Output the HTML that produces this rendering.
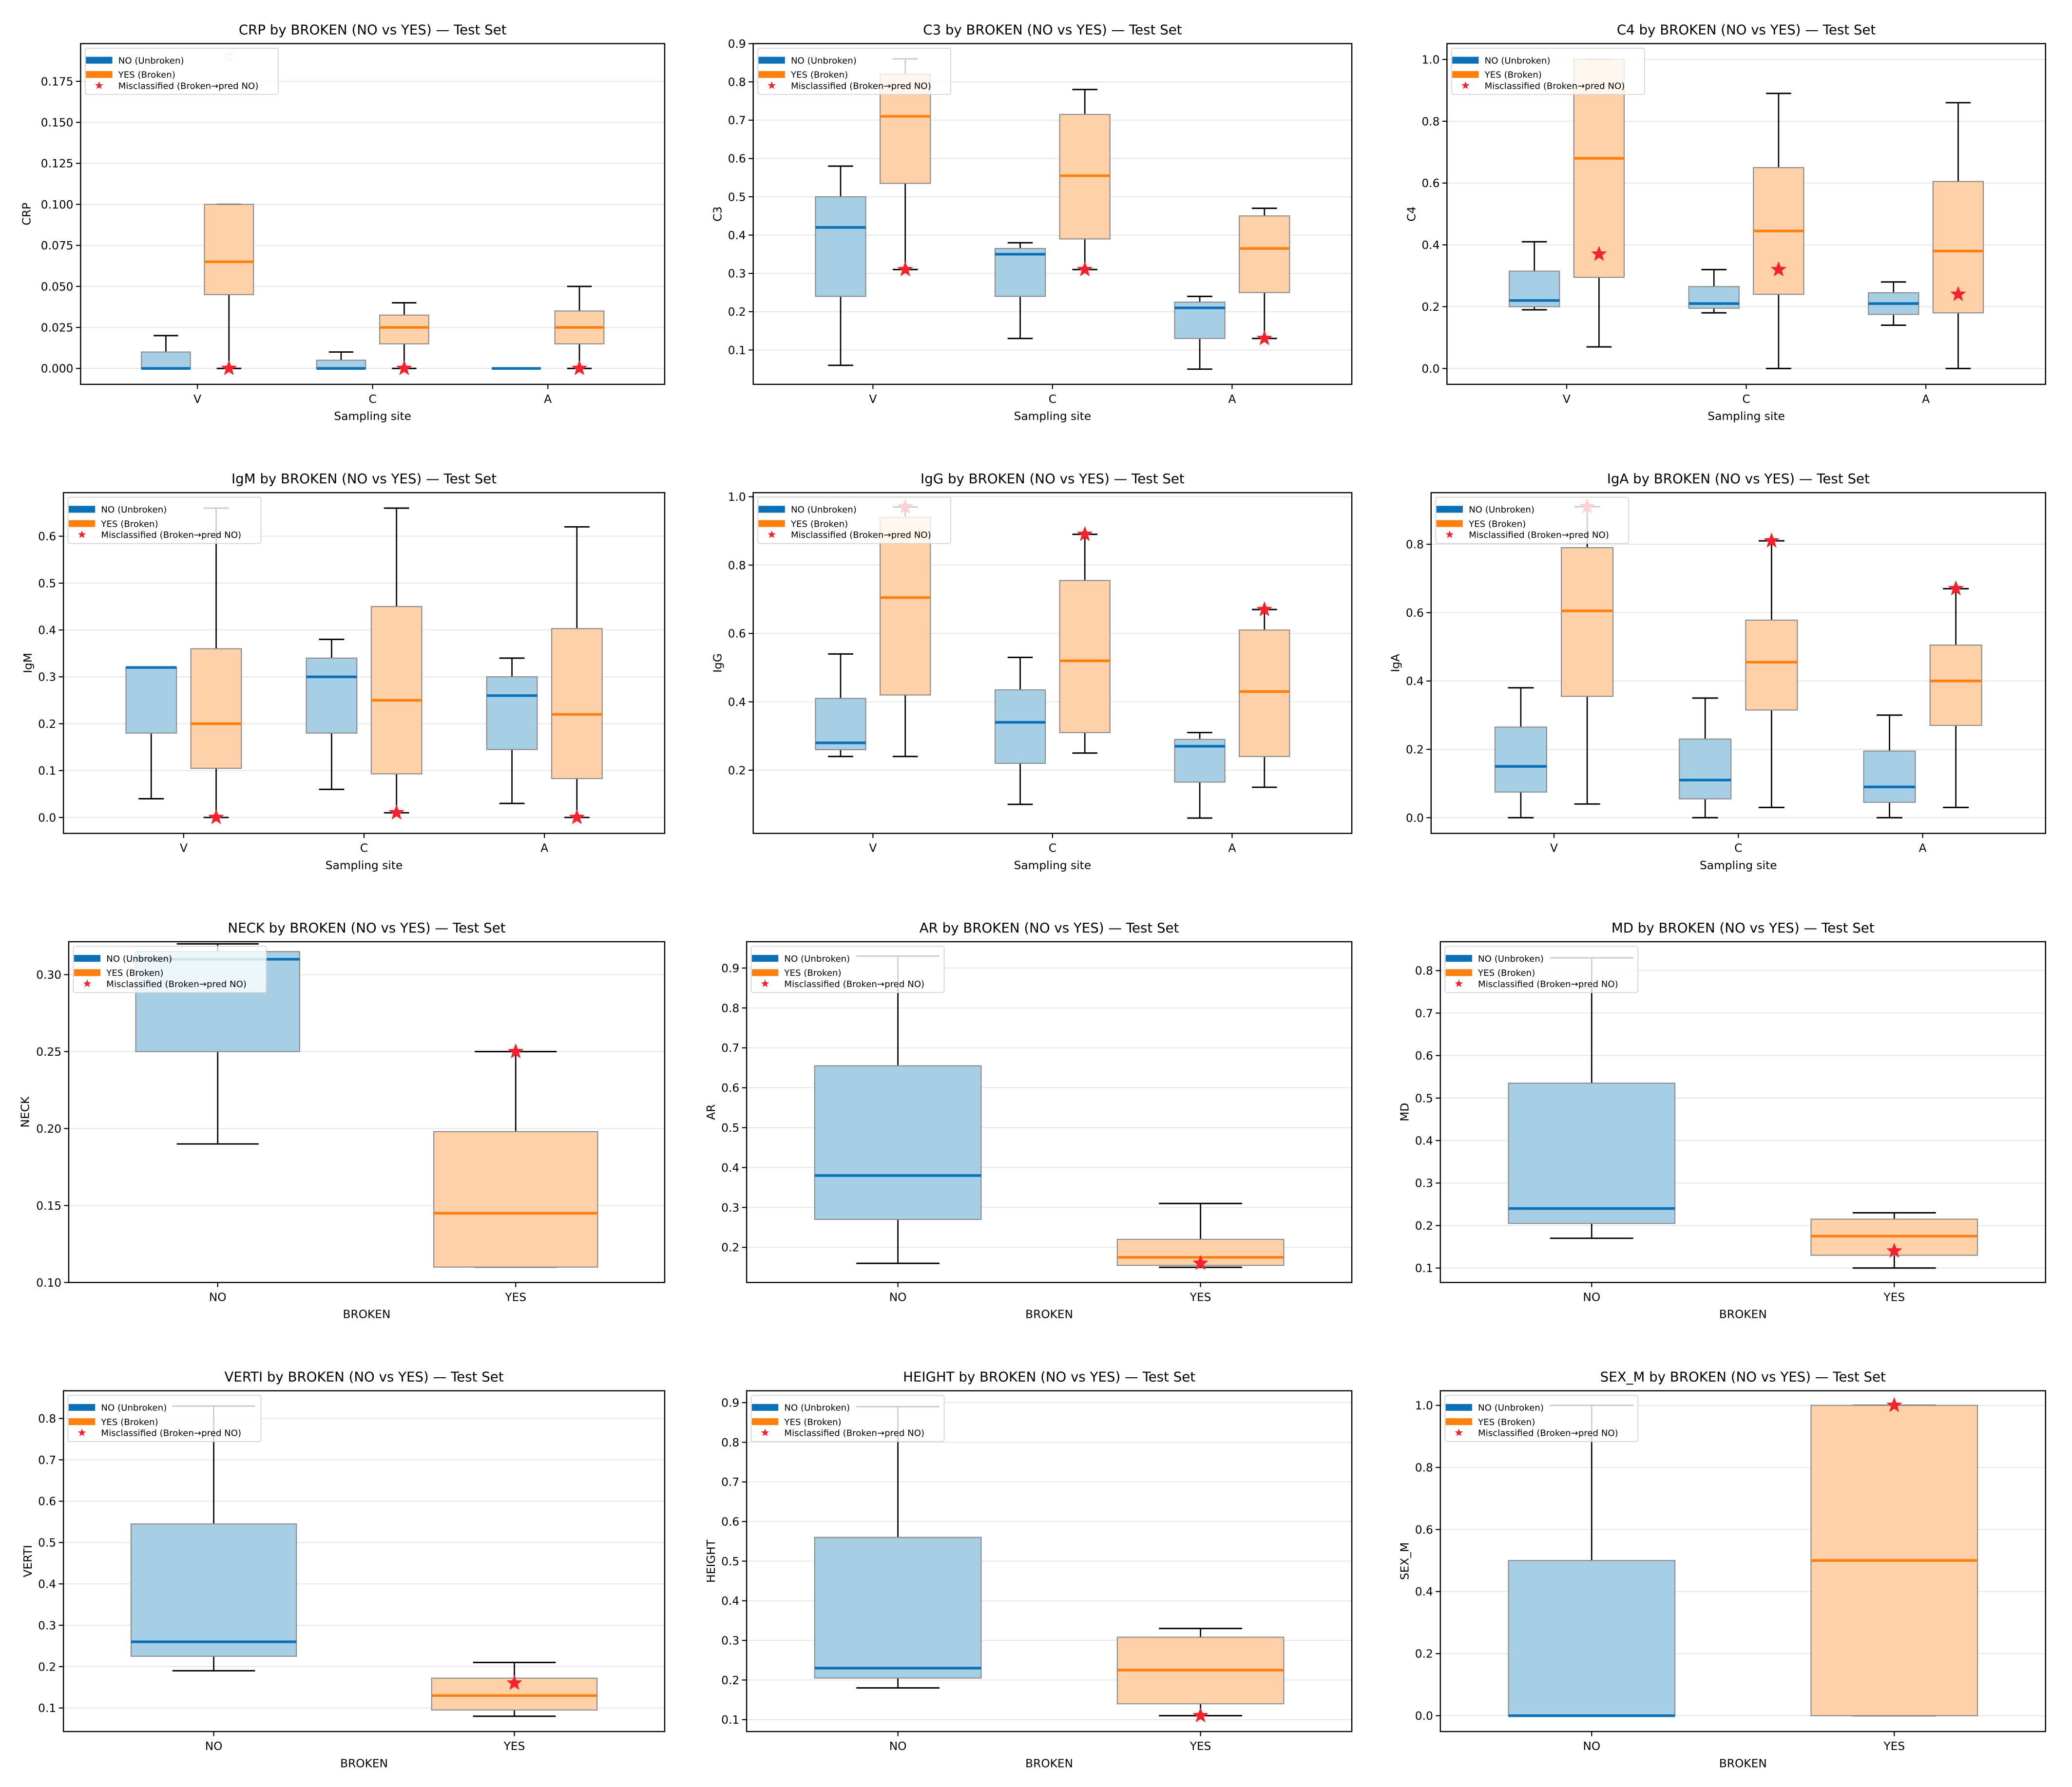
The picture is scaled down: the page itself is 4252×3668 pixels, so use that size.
<!DOCTYPE html>
<html><head><meta charset="utf-8"><style>
html,body{margin:0;padding:0;background:#fff}
svg{display:block;font-family:"DejaVu Sans","Liberation Sans",sans-serif}
</style></head><body>
<svg id="fig" width="4252" height="3668" viewBox="0 0 1568 1353" preserveAspectRatio="none" xmlns="http://www.w3.org/2000/svg"></svg>
<script>
// ---- data: [whisker_lo, q1, median, q3, whisker_hi] per group ----
const siteCats = ["V","C","A"];
const brokenCats = ["NO","YES"];
const crpNo  = [[0,0,0,0.01,0.02],[0,0,0,0.005,0.01],[0,0,0,0,0]];
const crpYes = [[0,0.045,0.065,0.1,0.1],[0,0.015,0.025,0.0325,0.04],[0,0.015,0.025,0.035,0.05]];
const crpMis = [0,0,0];
const crpFliers = [[0,0.19]];
const c3No  = [[0.06,0.24,0.42,0.5,0.58],[0.13,0.24,0.35,0.365,0.38],[0.05,0.13,0.21,0.225,0.24]];
const c3Yes = [[0.31,0.535,0.71,0.82,0.86],[0.31,0.39,0.555,0.715,0.78],[0.13,0.25,0.365,0.45,0.47]];
const c3Mis = [0.31,0.31,0.13];
const c4No  = [[0.19,0.2,0.22,0.315,0.41],[0.18,0.195,0.21,0.265,0.32],[0.14,0.175,0.21,0.245,0.28]];
const c4Yes = [[0.07,0.295,0.68,1.0,1.0],[0,0.24,0.445,0.65,0.89],[0,0.18,0.38,0.605,0.86]];
const c4Mis = [0.37,0.32,0.24];
const igmNo  = [[0.04,0.18,0.32,0.32,0.32],[0.06,0.18,0.30,0.34,0.38],[0.03,0.145,0.26,0.30,0.34]];
const igmYes = [[0,0.105,0.2,0.36,0.66],[0.01,0.093,0.25,0.45,0.66],[0,0.083,0.22,0.403,0.62]];
const igmMis = [0,0.01,0];
const iggNo  = [[0.24,0.26,0.28,0.41,0.54],[0.10,0.22,0.34,0.435,0.53],[0.06,0.165,0.27,0.29,0.31]];
const iggYes = [[0.24,0.42,0.705,0.94,0.97],[0.25,0.31,0.52,0.755,0.89],[0.15,0.24,0.43,0.61,0.67]];
const iggMis = [0.97,0.89,0.67];
const igaNo  = [[0,0.075,0.15,0.265,0.38],[0,0.055,0.11,0.23,0.35],[0,0.045,0.09,0.195,0.30]];
const igaYes = [[0.04,0.355,0.605,0.79,0.91],[0.03,0.315,0.455,0.578,0.81],[0.03,0.27,0.40,0.505,0.67]];
const igaMis = [0.91,0.81,0.67];
const neckBox = [[0.19,0.25,0.31,0.315,0.32],[0.11,0.11,0.145,0.198,0.25]];
const neckMis = [0.25];
const arBox = [[0.16,0.27,0.38,0.655,0.93],[0.15,0.155,0.175,0.22,0.31]];
const arMis = [0.16];
const mdBox = [[0.17,0.205,0.24,0.535,0.83],[0.10,0.13,0.175,0.215,0.23]];
const mdMis = [0.14];
const vertiBox = [[0.19,0.225,0.26,0.545,0.83],[0.08,0.095,0.13,0.172,0.21]];
const vertiMis = [0.16];
const heightBox = [[0.18,0.205,0.23,0.56,0.89],[0.11,0.14,0.225,0.308,0.33]];
const heightMis = [0.11];
const sexBox = [[0,0,0,0.5,1.0],[0,0,0.5,1,1]];
const sexMis = [1.0];
// tick values
const ticksCRP = [0,0.025,0.05,0.075,0.1,0.125,0.15,0.175];
const ticksTenth = [0.1,0.2,0.3,0.4,0.5,0.6,0.7,0.8,0.9];
const ticksFifth = [0,0.2,0.4,0.6,0.8,1.0];
const ticksIgM = [0,0.1,0.2,0.3,0.4,0.5,0.6];
const ticksIgG = [0.2,0.4,0.6,0.8,1.0];
const ticksIgA = [0,0.2,0.4,0.6,0.8];
const ticksNeck = [0.10,0.15,0.20,0.25,0.30];
const ticksVerti = [0.1,0.2,0.3,0.4,0.5,0.6,0.7,0.8];

const NS="http://www.w3.org/2000/svg";
const svg=document.getElementById('fig');
function el(tag,attrs,parent,txt){const e=document.createElementNS(NS,tag);for(const k in attrs)e.setAttribute(k,attrs[k]);if(txt!==undefined)e.textContent=txt;(parent||svg).appendChild(e);return e;}
function star(cx,cy,r){let p=[];for(let i=0;i<10;i++){const a=-Math.PI/2+i*Math.PI/5;const rr=i%2?r*0.42:r;p.push((cx+rr*Math.cos(a)).toFixed(2)+","+(cy+rr*Math.sin(a)).toFixed(2));}return p.join(" ");}

const panels=[
 {id:"crp",name:"CRP",l:61,r:503,t:33,b:291,ymin:-0.0097,ymax:0.198,ticks:ticksCRP,dec:3,grouped:true,no:crpNo,yes:crpYes,mis:crpMis,fl:crpFliers},
 {id:"c3",name:"C3",l:570,r:1023,t:33,b:291,ymin:0.0103,ymax:0.9,ticks:ticksTenth,dec:1,grouped:true,no:c3No,yes:c3Yes,mis:c3Mis},
 {id:"c4",name:"C4",l:1095,r:1548,t:33,b:291,ymin:-0.0513,ymax:1.0513,ticks:ticksFifth,dec:1,grouped:true,no:c4No,yes:c4Yes,mis:c4Mis},
 {id:"igm",name:"IgM",l:48,r:503,t:373,b:631,ymin:-0.034,ymax:0.693,ticks:ticksIgM,dec:1,grouped:true,no:igmNo,yes:igmYes,mis:igmMis},
 {id:"igg",name:"IgG",l:570,r:1023,t:373,b:631,ymin:0.015,ymax:1.012,ticks:ticksIgG,dec:1,grouped:true,no:iggNo,yes:iggYes,mis:iggMis},
 {id:"iga",name:"IgA",l:1083,r:1548,t:373,b:631,ymin:-0.046,ymax:0.951,ticks:ticksIgA,dec:1,grouped:true,no:igaNo,yes:igaYes,mis:igaMis},
 {id:"neck",name:"NECK",l:52,r:503,t:713,b:971,ymin:0.10,ymax:0.3214,ticks:ticksNeck,dec:2,grouped:false,box:neckBox,mis:neckMis},
 {id:"ar",name:"AR",l:565,r:1023,t:713,b:971,ymin:0.112,ymax:0.966,ticks:ticksTenth,dec:1,grouped:false,box:arBox,mis:arMis},
 {id:"md",name:"MD",l:1090,r:1548,t:713,b:971,ymin:0.066,ymax:0.868,ticks:ticksVerti,dec:1,grouped:false,box:mdBox,mis:mdMis},
 {id:"verti",name:"VERTI",l:48,r:503,t:1053,b:1311,ymin:0.043,ymax:0.867,ticks:ticksVerti,dec:1,grouped:false,box:vertiBox,mis:vertiMis},
 {id:"height",name:"HEIGHT",l:565,r:1023,t:1053,b:1311,ymin:0.07,ymax:0.93,ticks:ticksTenth,dec:1,grouped:false,box:heightBox,mis:heightMis},
 {id:"sex",name:"SEX_M",l:1090,r:1548,t:1053,b:1311,ymin:-0.051,ymax:1.047,ticks:ticksFifth,dec:1,grouped:false,box:sexBox,mis:sexMis}
];

const BLUE_FILL="#a6cfe6",BLUE_MED="#0b70b5",ORG_FILL="#ffd1a8",ORG_MED="#ff7f0e";

function drawBox(g,xs,ys,pos,w,v,fill,med){
  const x0=xs(pos-w/2),x1=xs(pos+w/2),xc=xs(pos),cw=(x1-x0)/2;
  let e;
  e=el('line',{x1:xc,x2:xc,y1:ys(v[0]),y2:ys(v[1]),stroke:"#000","stroke-width":1},g);
  
  e=el('line',{x1:xc,x2:xc,y1:ys(v[3]),y2:ys(v[4]),stroke:"#000","stroke-width":1},g);
  
  e=el('line',{x1:xc-cw/2,x2:xc+cw/2,y1:ys(v[0]),y2:ys(v[0]),stroke:"#000","stroke-width":1.1},g);
  
  e=el('line',{x1:xc-cw/2,x2:xc+cw/2,y1:ys(v[4]),y2:ys(v[4]),stroke:"#000","stroke-width":1.1},g);
  
  e=el('rect',{x:x0,y:ys(v[3]),width:x1-x0,height:Math.max(0,ys(v[1])-ys(v[3])),fill:fill,stroke:"#8c8c8c","stroke-width":0.8},g);
  
  e=el('line',{x1:x0,x2:x1,y1:ys(v[2]),y2:ys(v[2]),stroke:med,"stroke-width":2},g);
  
}

panels.forEach(p=>{
  const g=el('g',{});
  
  
  const xmin=p.grouped?1/3:0.5, xmax=p.grouped?1/3+10/3:2.5;
  const xs=v=>p.l+(v-xmin)/(xmax-xmin)*(p.r-p.l);
  const ys=v=>p.b-(v-p.ymin)/(p.ymax-p.ymin)*(p.b-p.t);
  // grid + y ticks
  p.ticks.filter(tv=>tv>=p.ymin-1e-9&&tv<=p.ymax+1e-9).forEach(tv=>{
    const y=ys(tv);
    let e=el('line',{x1:p.l,x2:p.r,y1:y,y2:y,stroke:"#e8e8e8","stroke-width":0.8},g);
    
    e=el('line',{x1:p.l-3.5,x2:p.l,y1:y,y2:y,stroke:"#000","stroke-width":0.8},g);
    
    e=el('text',{x:p.l-5.5,y:y+3.1,"font-size":8.6,"text-anchor":"end",fill:"#000"},g,tv.toFixed(p.dec));
    
  });
  const cats=p.grouped?siteCats:brokenCats;
  cats.forEach((c,i)=>{
    const x=xs(i+1);
    let e=el('line',{x1:x,x2:x,y1:p.b,y2:p.b+3.5,stroke:"#000","stroke-width":0.8},g);
    
    e=el('text',{x:x,y:p.b+14,"font-size":8.6,"text-anchor":"middle",fill:"#000"},g,c);
    
  });
  // boxes
  if(p.grouped){
    p.no.forEach((v,i)=>drawBox(g,xs,ys,i+1-0.18,0.28,v,BLUE_FILL,BLUE_MED));
    p.yes.forEach((v,i)=>drawBox(g,xs,ys,i+1+0.18,0.28,v,ORG_FILL,ORG_MED));
    (p.fl||[]).forEach(f=>{
      const e=el('circle',{cx:xs(f[0]+1+0.18),cy:ys(f[1]),r:2.6,fill:"none",stroke:"#bdbdbd","stroke-width":0.8},g);
      
    });
    p.mis.forEach((v,i)=>{
      const e=el('polygon',{points:star(xs(i+1+0.18),ys(v),6.3),fill:"#f5222d"},g);
      
    });
  } else {
    drawBox(g,xs,ys,1,0.55,p.box[0],BLUE_FILL,BLUE_MED);
    drawBox(g,xs,ys,2,0.55,p.box[1],ORG_FILL,ORG_MED);
    p.mis.forEach(v=>{
      const e=el('polygon',{points:star(xs(2),ys(v),6.3),fill:"#f5222d"},g);
      
    });
  }
  // frame
  let e=el('rect',{x:p.l,y:p.t,width:p.r-p.l,height:p.b-p.t,fill:"none",stroke:"#000","stroke-width":0.9},g);
  
  // legend
  const lg=el('g',{},g);
  
  
  const lx=p.l+3.5, ly=p.t+3.5;
  e=el('rect',{x:lx,y:ly,width:146,height:35,rx:1.5,fill:"#fff","fill-opacity":0.8,stroke:"#d6d6d6","stroke-width":0.7},lg);
  
  e=el('rect',{x:lx+0.5,y:ly+6.5,width:20,height:5.2,fill:"#0b70b5"},lg);
  
  e=el('text',{x:lx+25,y:ly+11.6,"font-size":6.7,fill:"#000"},lg,"NO (Unbroken)");
  
  e=el('rect',{x:lx+0.5,y:ly+17.3,width:20,height:5.2,fill:"#ff7f0e"},lg);
  
  e=el('text',{x:lx+25,y:ly+22.4,"font-size":6.7,fill:"#000"},lg,"YES (Broken)");
  
  e=el('polygon',{points:star(lx+10.5,ly+28.3,3.2),fill:"#f5222d"},lg);
  
  e=el('text',{x:lx+25,y:ly+30.8,"font-size":6.7,fill:"#000"},lg,"Misclassified (Broken\u2192pred NO)");
  
  // titles
  e=el('text',{x:(p.l+p.r)/2,y:p.t-7,"font-size":10.2,"text-anchor":"middle",fill:"#000"},g,p.name+" by BROKEN (NO vs YES) \u2014 Test Set");
  
  e=el('text',{x:(p.l+p.r)/2,y:p.b+27,"font-size":8.6,"text-anchor":"middle",fill:"#000"},g,p.grouped?"Sampling site":"BROKEN");
  
  const yx=p.l-(p.dec===3?38:(p.dec===2?30:24));
  const yc=(p.t+p.b)/2;
  e=el('text',{x:yx,y:yc,"font-size":8.6,"text-anchor":"middle",fill:"#000",transform:"rotate(-90 "+yx+" "+yc+")"},g,p.name);
  
});
</script>
</body></html>
